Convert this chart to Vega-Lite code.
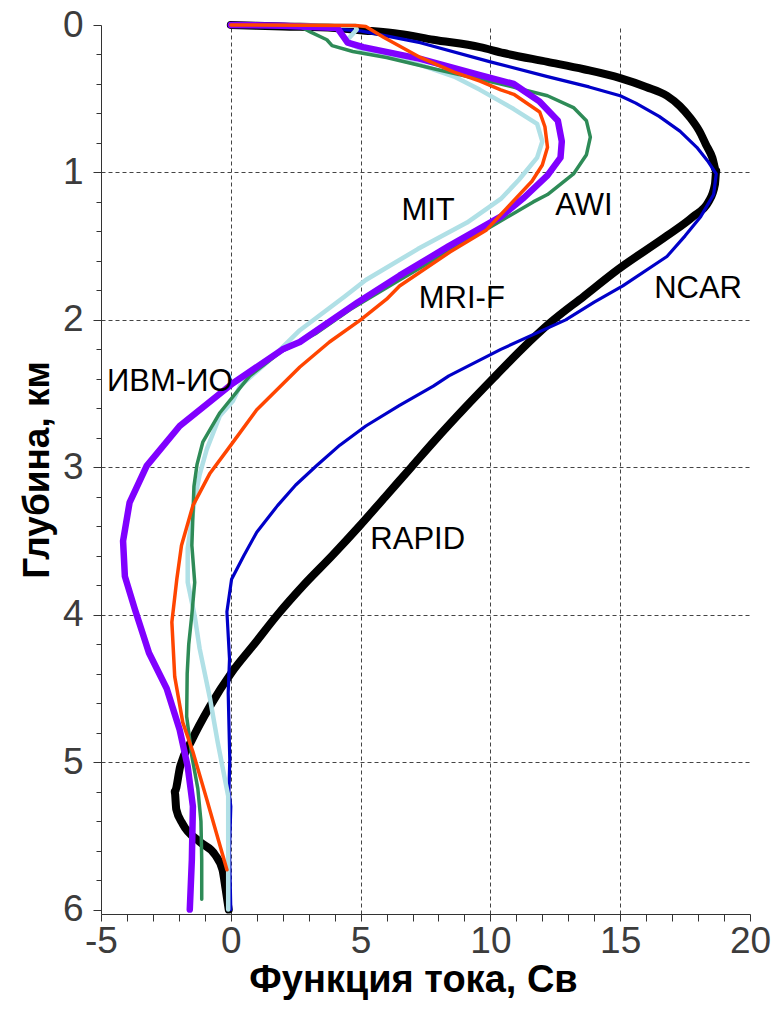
{
  "$schema": "https://vega.github.io/schema/vega-lite/v6.json",
  "width": 649,
  "height": 889,
  "autosize": {"type": "none"},
  "padding": {"left": 101, "top": 25, "right": 34, "bottom": 97},
  "background": "white",
  "config": {"view": {"stroke": null}},
  "datasets": {
    "curves": [
      {"m": "RAPID", "v": 0, "d": 0}, {"m": "RAPID", "v": 2, "d": 0.01}, {"m": "RAPID", "v": 4, "d": 0.02}, {"m": "RAPID", "v": 5, "d": 0.035}, {"m": "RAPID", "v": 6.5, "d": 0.06}, {"m": "RAPID", "v": 7.8, "d": 0.1}, {"m": "RAPID", "v": 9.6, "d": 0.15}, {"m": "RAPID", "v": 10.5, "d": 0.19}, {"m": "RAPID", "v": 12.2, "d": 0.25}, {"m": "RAPID", "v": 13.6, "d": 0.3}, {"m": "RAPID", "v": 15, "d": 0.36}, {"m": "RAPID", "v": 16, "d": 0.42}, {"m": "RAPID", "v": 16.8, "d": 0.48}, {"m": "RAPID", "v": 17.3, "d": 0.55}, {"m": "RAPID", "v": 17.7, "d": 0.63}, {"m": "RAPID", "v": 18.05, "d": 0.72}, {"m": "RAPID", "v": 18.3, "d": 0.81}, {"m": "RAPID", "v": 18.55, "d": 0.9}, {"m": "RAPID", "v": 18.7, "d": 0.99}, {"m": "RAPID", "v": 18.65, "d": 1.08}, {"m": "RAPID", "v": 18.4, "d": 1.2}, {"m": "RAPID", "v": 17.8, "d": 1.3}, {"m": "RAPID", "v": 16.8, "d": 1.43}, {"m": "RAPID", "v": 14.9, "d": 1.66}, {"m": "RAPID", "v": 13.6, "d": 1.84}, {"m": "RAPID", "v": 12.3, "d": 2.02}, {"m": "RAPID", "v": 11.2, "d": 2.2}, {"m": "RAPID", "v": 10.2, "d": 2.38}, {"m": "RAPID", "v": 9.0, "d": 2.6}, {"m": "RAPID", "v": 7.9, "d": 2.81}, {"m": "RAPID", "v": 6.95, "d": 3.0}, {"m": "RAPID", "v": 5.95, "d": 3.2}, {"m": "RAPID", "v": 4.95, "d": 3.4}, {"m": "RAPID", "v": 3.9, "d": 3.6}, {"m": "RAPID", "v": 2.8, "d": 3.8}, {"m": "RAPID", "v": 1.8, "d": 4.0}, {"m": "RAPID", "v": 0.9, "d": 4.2}, {"m": "RAPID", "v": 0.04, "d": 4.39}, {"m": "RAPID", "v": -0.8, "d": 4.62}, {"m": "RAPID", "v": -1.5, "d": 4.85}, {"m": "RAPID", "v": -1.95, "d": 5.03}, {"m": "RAPID", "v": -2.16, "d": 5.2}, {"m": "RAPID", "v": -2.1, "d": 5.32}, {"m": "RAPID", "v": -1.85, "d": 5.42}, {"m": "RAPID", "v": -1.2, "d": 5.54}, {"m": "RAPID", "v": -0.6, "d": 5.63}, {"m": "RAPID", "v": -0.32, "d": 5.73}, {"m": "RAPID", "v": -0.2, "d": 5.86}, {"m": "RAPID", "v": -0.08, "d": 6.0},

      {"m": "NCAR", "v": 0, "d": 0}, {"m": "NCAR", "v": 3, "d": 0.015}, {"m": "NCAR", "v": 5, "d": 0.04}, {"m": "NCAR", "v": 7.3, "d": 0.12}, {"m": "NCAR", "v": 10, "d": 0.25}, {"m": "NCAR", "v": 12.2, "d": 0.35}, {"m": "NCAR", "v": 13.8, "d": 0.42}, {"m": "NCAR", "v": 15, "d": 0.48}, {"m": "NCAR", "v": 15.6, "d": 0.53}, {"m": "NCAR", "v": 16.5, "d": 0.62}, {"m": "NCAR", "v": 17.3, "d": 0.72}, {"m": "NCAR", "v": 17.95, "d": 0.83}, {"m": "NCAR", "v": 18.4, "d": 0.93}, {"m": "NCAR", "v": 18.7, "d": 1.01}, {"m": "NCAR", "v": 18.6, "d": 1.15}, {"m": "NCAR", "v": 18.1, "d": 1.3}, {"m": "NCAR", "v": 17.5, "d": 1.43}, {"m": "NCAR", "v": 16.8, "d": 1.57}, {"m": "NCAR", "v": 15.1, "d": 1.77}, {"m": "NCAR", "v": 14, "d": 1.88}, {"m": "NCAR", "v": 12.9, "d": 2.0}, {"m": "NCAR", "v": 10.4, "d": 2.2}, {"m": "NCAR", "v": 8.4, "d": 2.38}, {"m": "NCAR", "v": 7.8, "d": 2.45}, {"m": "NCAR", "v": 6.5, "d": 2.58}, {"m": "NCAR", "v": 5.2, "d": 2.72}, {"m": "NCAR", "v": 4.2, "d": 2.85}, {"m": "NCAR", "v": 3.3, "d": 2.99}, {"m": "NCAR", "v": 2.5, "d": 3.12}, {"m": "NCAR", "v": 1.8, "d": 3.26}, {"m": "NCAR", "v": 1.0, "d": 3.44}, {"m": "NCAR", "v": 0.5, "d": 3.6}, {"m": "NCAR", "v": 0.03, "d": 3.76}, {"m": "NCAR", "v": -0.15, "d": 3.98}, {"m": "NCAR", "v": -0.05, "d": 4.3}, {"m": "NCAR", "v": -0.1, "d": 4.53}, {"m": "NCAR", "v": -0.04, "d": 4.98}, {"m": "NCAR", "v": -0.07, "d": 5.2}, {"m": "NCAR", "v": 0, "d": 5.3}, {"m": "NCAR", "v": -0.05, "d": 5.6}, {"m": "NCAR", "v": 0, "d": 6.0},

      {"m": "MIT", "v": 0, "d": 0}, {"m": "MIT", "v": 4.8, "d": 0.005}, {"m": "MIT", "v": 4.85, "d": 0.03}, {"m": "MIT", "v": 4.5, "d": 0.1}, {"m": "MIT", "v": 4.6, "d": 0.13}, {"m": "MIT", "v": 5.1, "d": 0.17}, {"m": "MIT", "v": 7.3, "d": 0.27}, {"m": "MIT", "v": 8.6, "d": 0.35}, {"m": "MIT", "v": 9.6, "d": 0.44}, {"m": "MIT", "v": 10.4, "d": 0.52}, {"m": "MIT", "v": 10.9, "d": 0.57}, {"m": "MIT", "v": 11.8, "d": 0.67}, {"m": "MIT", "v": 12.0, "d": 0.79}, {"m": "MIT", "v": 11.8, "d": 0.9}, {"m": "MIT", "v": 11.1, "d": 1.05}, {"m": "MIT", "v": 10.4, "d": 1.18}, {"m": "MIT", "v": 9.1, "d": 1.34}, {"m": "MIT", "v": 7.2, "d": 1.52}, {"m": "MIT", "v": 5.2, "d": 1.73}, {"m": "MIT", "v": 4.4, "d": 1.84}, {"m": "MIT", "v": 2.66, "d": 2.07}, {"m": "MIT", "v": 1.39, "d": 2.29}, {"m": "MIT", "v": 0.35, "d": 2.45}, {"m": "MIT", "v": 0.08, "d": 2.55}, {"m": "MIT", "v": -0.42, "d": 2.65}, {"m": "MIT", "v": -0.93, "d": 2.88}, {"m": "MIT", "v": -1.2, "d": 3.05}, {"m": "MIT", "v": -1.39, "d": 3.22}, {"m": "MIT", "v": -1.66, "d": 3.55}, {"m": "MIT", "v": -1.66, "d": 3.78}, {"m": "MIT", "v": -1.39, "d": 4.01}, {"m": "MIT", "v": -1.2, "d": 4.23}, {"m": "MIT", "v": -0.8, "d": 4.57}, {"m": "MIT", "v": -0.5, "d": 4.87}, {"m": "MIT", "v": -0.1, "d": 5.23}, {"m": "MIT", "v": -0.1, "d": 6.0},

      {"m": "AWI", "v": 0, "d": 0}, {"m": "AWI", "v": 2.66, "d": 0.01}, {"m": "AWI", "v": 3.1, "d": 0.05}, {"m": "AWI", "v": 3.7, "d": 0.1}, {"m": "AWI", "v": 3.9, "d": 0.14}, {"m": "AWI", "v": 4.7, "d": 0.18}, {"m": "AWI", "v": 6, "d": 0.22}, {"m": "AWI", "v": 7.9, "d": 0.3}, {"m": "AWI", "v": 10.4, "d": 0.4}, {"m": "AWI", "v": 12.2, "d": 0.48}, {"m": "AWI", "v": 13.2, "d": 0.56}, {"m": "AWI", "v": 13.7, "d": 0.65}, {"m": "AWI", "v": 13.85, "d": 0.76}, {"m": "AWI", "v": 13.7, "d": 0.88}, {"m": "AWI", "v": 13.2, "d": 1.01}, {"m": "AWI", "v": 12.2, "d": 1.15}, {"m": "AWI", "v": 11.65, "d": 1.2}, {"m": "AWI", "v": 10.1, "d": 1.36}, {"m": "AWI", "v": 8.44, "d": 1.53}, {"m": "AWI", "v": 6.5, "d": 1.73}, {"m": "AWI", "v": 4.6, "d": 1.93}, {"m": "AWI", "v": 3.3, "d": 2.09}, {"m": "AWI", "v": 1.9, "d": 2.22}, {"m": "AWI", "v": 0.73, "d": 2.38}, {"m": "AWI", "v": -0.42, "d": 2.63}, {"m": "AWI", "v": -1.08, "d": 2.83}, {"m": "AWI", "v": -1.3, "d": 2.98}, {"m": "AWI", "v": -1.42, "d": 3.13}, {"m": "AWI", "v": -1.5, "d": 3.53}, {"m": "AWI", "v": -1.39, "d": 3.78}, {"m": "AWI", "v": -1.5, "d": 4.0}, {"m": "AWI", "v": -1.62, "d": 4.2}, {"m": "AWI", "v": -1.68, "d": 4.4}, {"m": "AWI", "v": -1.7, "d": 4.69}, {"m": "AWI", "v": -1.5, "d": 4.96}, {"m": "AWI", "v": -1.27, "d": 5.18}, {"m": "AWI", "v": -1.15, "d": 5.4}, {"m": "AWI", "v": -1.12, "d": 5.66}, {"m": "AWI", "v": -1.12, "d": 5.93},

      {"m": "MRI-F", "v": 0, "d": 0}, {"m": "MRI-F", "v": 4.8, "d": 0.003}, {"m": "MRI-F", "v": 5.2, "d": 0.01}, {"m": "MRI-F", "v": 5.9, "d": 0.085}, {"m": "MRI-F", "v": 7.3, "d": 0.22}, {"m": "MRI-F", "v": 8.6, "d": 0.32}, {"m": "MRI-F", "v": 9.6, "d": 0.38}, {"m": "MRI-F", "v": 10.4, "d": 0.44}, {"m": "MRI-F", "v": 10.9, "d": 0.47}, {"m": "MRI-F", "v": 11.9, "d": 0.59}, {"m": "MRI-F", "v": 12.1, "d": 0.69}, {"m": "MRI-F", "v": 12.2, "d": 0.83}, {"m": "MRI-F", "v": 12.0, "d": 0.95}, {"m": "MRI-F", "v": 11.6, "d": 1.06}, {"m": "MRI-F", "v": 10.8, "d": 1.21}, {"m": "MRI-F", "v": 9.85, "d": 1.39}, {"m": "MRI-F", "v": 8.44, "d": 1.54}, {"m": "MRI-F", "v": 6.5, "d": 1.77}, {"m": "MRI-F", "v": 6.0, "d": 1.86}, {"m": "MRI-F", "v": 5.0, "d": 2.0}, {"m": "MRI-F", "v": 3.8, "d": 2.15}, {"m": "MRI-F", "v": 2.66, "d": 2.32}, {"m": "MRI-F", "v": 1.0, "d": 2.61}, {"m": "MRI-F", "v": -0.04, "d": 2.86}, {"m": "MRI-F", "v": -0.8, "d": 3.04}, {"m": "MRI-F", "v": -1.46, "d": 3.26}, {"m": "MRI-F", "v": -1.9, "d": 3.53}, {"m": "MRI-F", "v": -2.08, "d": 3.76}, {"m": "MRI-F", "v": -2.27, "d": 4.05}, {"m": "MRI-F", "v": -2.16, "d": 4.42}, {"m": "MRI-F", "v": -1.85, "d": 4.73}, {"m": "MRI-F", "v": -1.46, "d": 4.93}, {"m": "MRI-F", "v": -0.93, "d": 5.25}, {"m": "MRI-F", "v": -0.15, "d": 5.73},

      {"m": "ИВМ-ИО", "v": 0, "d": 0}, {"m": "ИВМ-ИО", "v": 2, "d": 0.005}, {"m": "ИВМ-ИО", "v": 4.1, "d": 0.02}, {"m": "ИВМ-ИО", "v": 4.5, "d": 0.12}, {"m": "ИВМ-ИО", "v": 5.1, "d": 0.15}, {"m": "ИВМ-ИО", "v": 7.3, "d": 0.23}, {"m": "ИВМ-ИО", "v": 9.6, "d": 0.34}, {"m": "ИВМ-ИО", "v": 10.9, "d": 0.4}, {"m": "ИВМ-ИО", "v": 11.9, "d": 0.52}, {"m": "ИВМ-ИО", "v": 12.6, "d": 0.65}, {"m": "ИВМ-ИО", "v": 12.75, "d": 0.79}, {"m": "ИВМ-ИО", "v": 12.7, "d": 0.9}, {"m": "ИВМ-ИО", "v": 12.2, "d": 1.02}, {"m": "ИВМ-ИО", "v": 11.3, "d": 1.17}, {"m": "ИВМ-ИО", "v": 10.4, "d": 1.3}, {"m": "ИВМ-ИО", "v": 8.4, "d": 1.5}, {"m": "ИВМ-ИО", "v": 6.5, "d": 1.7}, {"m": "ИВМ-ИО", "v": 4.9, "d": 1.88}, {"m": "ИВМ-ИО", "v": 2.66, "d": 2.15}, {"m": "ИВМ-ИО", "v": 2.0, "d": 2.2}, {"m": "ИВМ-ИО", "v": 0.08, "d": 2.43}, {"m": "ИВМ-ИО", "v": -1.97, "d": 2.72}, {"m": "ИВМ-ИО", "v": -3.24, "d": 2.99}, {"m": "ИВМ-ИО", "v": -3.9, "d": 3.24}, {"m": "ИВМ-ИО", "v": -4.15, "d": 3.5}, {"m": "ИВМ-ИО", "v": -4.08, "d": 3.74}, {"m": "ИВМ-ИО", "v": -3.7, "d": 3.96}, {"m": "ИВМ-ИО", "v": -3.15, "d": 4.26}, {"m": "ИВМ-ИО", "v": -2.47, "d": 4.5}, {"m": "ИВМ-ИО", "v": -1.97, "d": 4.78}, {"m": "ИВМ-ИО", "v": -1.66, "d": 5.03}, {"m": "ИВМ-ИО", "v": -1.46, "d": 5.3}, {"m": "ИВМ-ИО", "v": -1.5, "d": 5.66}, {"m": "ИВМ-ИО", "v": -1.58, "d": 6.0}
    ],
    "labels": [
      {"t": "MIT", "v": 7.6, "d": 1.26},
      {"t": "AWI", "v": 13.6, "d": 1.23},
      {"t": "NCAR", "v": 18.0, "d": 1.79},
      {"t": "MRI-F", "v": 8.9, "d": 1.86},
      {"t": "ИВМ-ИО", "v": -2.35, "d": 2.42},
      {"t": "RAPID", "v": 7.2, "d": 3.49}
    ]
  },
  "encoding": {
    "x": {
      "field": "v", "type": "quantitative",
      "scale": {"domain": [-5, 20], "nice": false, "zero": false},
      "axis": {
        "values": [-5,-4,-3,-2,-1,0,1,2,3,4,5,6,7,8,9,10,11,12,13,14,15,16,17,18,19,20],
        "labelExpr": "datum.value % 5 === 0 ? '' + datum.value : ''",
        "labelOverlap": false,
        "labelFlush": false,
        "labelFont": "Liberation Sans",
        "labelFontSize": 37,
        "labelColor": "#3c3c3c",
        "labelPadding": 2,
        "tickSize": 7,
        "tickColor": "#333333",
        "domainColor": "#333333",
        "grid": true,
        "gridColor": "#444444",
        "gridDash": [4, 3],
        "gridWidth": 1,
        "gridOpacity": {"condition": {"test": "datum.value % 5 === 0 && datum.value > -5 && datum.value < 20", "value": 1}, "value": 0},
        "title": "Функция тока, Св",
        "titleFont": "Liberation Sans",
        "titleFontWeight": "bold",
        "titleFontSize": 38,
        "titleColor": "#000000",
        "titlePadding": 2,
        "titleX": 312
      }
    },
    "y": {
      "field": "d", "type": "quantitative",
      "scale": {"domain": [0, 6.03], "nice": false, "zero": false, "reverse": true},
      "axis": {
        "values": [0,0.2,0.4,0.6,0.8,1,1.2,1.4,1.6,1.8,2,2.2,2.4,2.6,2.8,3,3.2,3.4,3.6,3.8,4,4.2,4.4,4.6,4.8,5,5.2,5.4,5.6,5.8,6],
        "labelExpr": "datum.value % 1 === 0 ? '' + datum.value : ''",
        "labelOverlap": false,
        "labelFont": "Liberation Sans",
        "labelFontSize": 37,
        "labelColor": "#3c3c3c",
        "labelPadding": 10,
        "tickSize": {"condition": {"test": "datum.value % 1 === 0", "value": 8}, "value": 5},
        "tickColor": "#333333",
        "domainColor": "#333333",
        "grid": true,
        "gridColor": "#444444",
        "gridDash": [4, 3],
        "gridWidth": 1,
        "gridOpacity": {"condition": {"test": "datum.value % 1 === 0 && datum.value > 0 && datum.value < 6", "value": 1}, "value": 0},
        "title": "Глубина, км",
        "titleFont": "Liberation Sans",
        "titleFontWeight": "bold",
        "titleFontSize": 37,
        "titleColor": "#000000",
        "titlePadding": 6
      }
    }
  },
  "layer": [
    {"data": {"name": "curves"}, "transform": [{"filter": "datum.m === 'RAPID'"}], "mark": {"type": "line", "color": "#000000", "strokeWidth": 8, "strokeCap": "round", "strokeJoin": "round", "interpolate": "monotone"}, "encoding": {"order": {"field": "d", "type": "quantitative"}}},
    {"data": {"name": "curves"}, "transform": [{"filter": "datum.m === 'NCAR'"}], "mark": {"type": "line", "color": "#0000c8", "strokeWidth": 3.2, "strokeCap": "round", "strokeJoin": "round"}, "encoding": {"order": {"field": "d", "type": "quantitative"}}},
    {"data": {"name": "curves"}, "transform": [{"filter": "datum.m === 'MIT'"}], "mark": {"type": "line", "color": "#b0e0e6", "strokeWidth": 4.5, "strokeCap": "round", "strokeJoin": "round"}, "encoding": {"order": {"field": "d", "type": "quantitative"}}},
    {"data": {"name": "curves"}, "transform": [{"filter": "datum.m === 'AWI'"}], "mark": {"type": "line", "color": "#2e8b57", "strokeWidth": 3.5, "strokeCap": "round", "strokeJoin": "round"}, "encoding": {"order": {"field": "d", "type": "quantitative"}}},
    {"data": {"name": "curves"}, "transform": [{"filter": "datum.m === 'ИВМ-ИО'"}], "mark": {"type": "line", "color": "#8000ff", "strokeWidth": 6.5, "strokeCap": "round", "strokeJoin": "round"}, "encoding": {"order": {"field": "d", "type": "quantitative"}}},
    {"data": {"name": "curves"}, "transform": [{"filter": "datum.m === 'MRI-F'"}], "mark": {"type": "line", "color": "#ff4500", "strokeWidth": 3.5, "strokeCap": "round", "strokeJoin": "round"}, "encoding": {"order": {"field": "d", "type": "quantitative"}}},
    {"data": {"name": "labels"}, "mark": {"type": "text", "font": "Liberation Sans", "fontSize": 31, "color": "#000000", "align": "center", "baseline": "middle"}, "encoding": {"text": {"field": "t", "type": "nominal"}}}
  ]
}
